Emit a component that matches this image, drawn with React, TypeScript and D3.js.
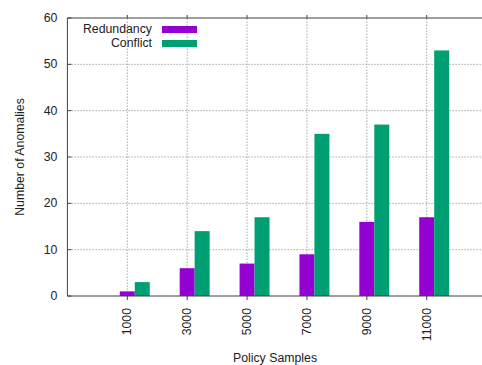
import React from "react";
import * as d3 from "d3";

const samples = [1000, 3000, 5000, 7000, 9000, 11000];
const redundancy = [1, 6, 7, 9, 16, 17];
const conflict = [3, 14, 17, 35, 37, 53];
const yTicks = [0, 10, 20, 30, 40, 50, 60];
const seriesNames = ["Redundancy", "Conflict"];
const seriesColors = ["#9400d3", "#009e73"];

const W = 482;
const H = 365;
const FONT = "'Liberation Sans', Arial, sans-serif";

export default function App() {
  const x = d3.scaleLinear().domain([-1000, 13000]).range([67.4, 486.6]);
  const y = d3.scaleLinear().domain([0, 60]).range([296, 18]);
  const halfBar = 250;

  const left = x(-1000);
  const right = x(13000);
  const top = y(60);
  const bottom = y(0);
  const grid = "#a8a8a8";
  const axisColor = "#404040";

  const series = [redundancy, conflict];

  return (
    <svg
      width={W}
      height={H}
      style={{ position: "absolute", left: 0, top: 0, background: "#fff" }}
      fontFamily={FONT}
    >
      <rect x={0} y={0} width={W} height={H} fill="#fff" />

      {/* grid */}
      {yTicks.slice(1, -1).map((t) => (
        <line
          key={"gy" + t}
          x1={left + 4}
          x2={right}
          y1={y(t)}
          y2={y(t)}
          stroke={grid}
          strokeWidth={1}
          strokeDasharray="1.5,1.5"
        />
      ))}
      {samples.map((s) => (
        <line
          key={"gx" + s}
          x1={x(s)}
          x2={x(s)}
          y1={bottom}
          y2={top}
          stroke={grid}
          strokeWidth={1}
          strokeDasharray="1.5,1.5"
        />
      ))}

      {/* bars */}
      {series.map((vals, si) =>
        vals.map((v, i) => {
          const x0 = x(samples[i] - halfBar + si * 2 * halfBar);
          const x1 = x(samples[i] + halfBar + si * 2 * halfBar);
          return (
            <rect
              key={si + "-" + i}
              x={x0}
              y={y(v)}
              width={x1 - x0}
              height={bottom - y(v)}
              fill={seriesColors[si]}
            />
          );
        })
      )}

      {/* frame */}
      <line x1={left} x2={right} y1={top} y2={top} stroke={axisColor} strokeWidth={1} />
      <line x1={left} x2={right} y1={bottom} y2={bottom} stroke={axisColor} strokeWidth={1} />
      <line x1={left} x2={left} y1={top} y2={bottom} stroke={axisColor} strokeWidth={1} />

      {/* y ticks */}
      {yTicks.map((t) => (
        <g key={"yt" + t}>
          <line x1={left} x2={left + 4} y1={y(t)} y2={y(t)} stroke={axisColor} />
          <text
            x={left - 10}
            y={y(t)}
            textAnchor="end"
            dominantBaseline="central"
            fontSize={12.3}
            fill="#222"
          >
            {t}
          </text>
        </g>
      ))}

      {/* x ticks */}
      {samples.map((s) => (
        <g key={"xt" + s}>
          <line x1={x(s)} x2={x(s)} y1={bottom} y2={bottom + 4} stroke={axisColor} />
          <line x1={x(s)} x2={x(s)} y1={top} y2={top - 3} stroke={axisColor} />
          <text
            transform={`translate(${x(s)},${bottom + 12}) rotate(-90)`}
            textAnchor="end"
            dominantBaseline="central"
            fontSize={12.3}
            fill="#222"
          >
            {s}
          </text>
        </g>
      ))}

      {/* axis titles */}
      <text
        x={(left + right) / 2 - 2}
        y={362}
        textAnchor="middle"
        fontSize={12.3}
        fill="#222"
      >
        Policy Samples
      </text>
      <text
        transform={`translate(20,${(top + bottom) / 2}) rotate(-90)`}
        textAnchor="middle"
        dominantBaseline="central"
        fontSize={12.3}
        fill="#222"
      >
        Number of Anomalies
      </text>

      {/* legend */}
      {seriesNames.map((name, i) => (
        <g key={name}>
          <text
            x={152}
            y={29 + i * 14}
            textAnchor="end"
            dominantBaseline="central"
            fontSize={12.3}
            fill="#222"
          >
            {name}
          </text>
          <rect x={162} y={26 + i * 14} width={35} height={7} fill={seriesColors[i]} />
        </g>
      ))}
    </svg>
  );
}
